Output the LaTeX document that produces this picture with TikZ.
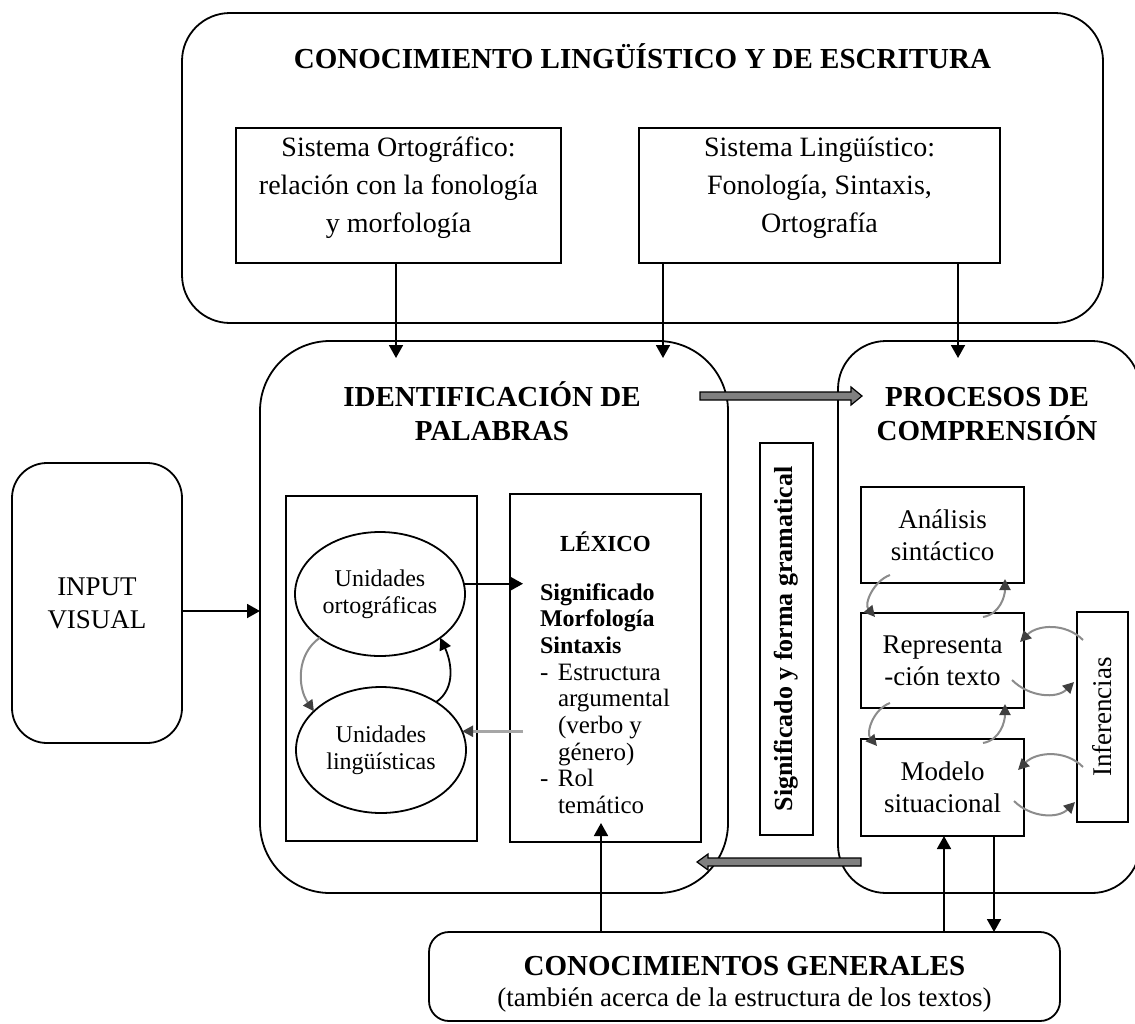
\documentclass[tikz,border=0pt]{standalone}
\usepackage{fontspec}
\setmainfont{Liberation Serif}
\usetikzlibrary{arrows.meta,shapes.geometric,calc}
\newcommand\lexfont{\fontsize{25}{26.7}\selectfont\lineskiplimit=-100pt\relax\lineskip=0pt\relax}
\newcommand\lexbold[1]{{\fontsize{24}{26.7}\selectfont\bfseries #1}}
\begin{document}
\begin{tikzpicture}[x=1pt,y=-1pt,
  box/.style={draw,line width=1.8pt,inner sep=0pt,outer sep=0pt},
  txt/.style={inner sep=0pt,outer sep=0pt,align=center},
  bodyf/.style={font=\fontsize{27}{32}\selectfont},
  ttlf/.style={font=\fontsize{29}{34}\selectfont\bfseries},
  arr/.style={line width=1.8pt,-{Triangle[length=13pt,width=14pt]}},
  garr/.style={line width=2pt,draw=black!45,-{Triangle[length=11pt,width=11pt,color=black!75]}},
  blk/.style={fill=black!50,draw=black,line width=1.2pt,line join=miter}]
\fill[white] (0,0) rectangle (1135,1023);
\useasboundingbox (0,0) rectangle (1135,1023);

% top container
\node[box,rounded corners=48pt,minimum width=921pt,minimum height=310pt] (top) at (642.5,168) {};
\node[txt,ttlf,anchor=base] (toptitle) at (642.5,68) {CONOCIMIENTO LINGÜÍSTICO Y DE ESCRITURA};
\node[box,minimum width=325pt,minimum height=135pt] (orto) at (398.5,195.5) {};
\node[txt,font=\fontsize{28}{38}\selectfont] (ortot) at (398.5,188) {Sistema Ortográfico:\\relación con la fonología\\y morfología};
\node[box,minimum width=361pt,minimum height=135pt] (ling) at (819.5,195.5) {};
\node[txt,font=\fontsize{28}{38}\selectfont] (lingt) at (819.5,188) {Sistema Lingüístico:\\Fonología, Sintaxis,\\Ortografía};

% identification
\node[box,rounded corners=70pt,minimum width=468pt,minimum height=552pt] (ident) at (494,617) {};
\node[txt,ttlf] (identt) at (492,411.5) {IDENTIFICACIÓN DE\\PALABRAS};
\node[box,minimum width=191pt,minimum height=345pt] (leftin) at (381.5,668.5) {};
\node[box,ellipse,minimum width=170pt,minimum height=124pt,align=center,font=\fontsize{24}{27}\selectfont] (e1) at (380,594) {Unidades\\ortográficas};
\node[box,ellipse,minimum width=170pt,minimum height=126pt,align=center,font=\fontsize{24}{27}\selectfont] (e2) at (381,750) {Unidades\\lingüísticas};
\node[box,minimum width=191pt,minimum height=348pt] (lexico) at (605.5,668) {};
\node[txt,font=\fontsize{23}{27}\selectfont\bfseries,anchor=base] (lext) at (605.5,551) {LÉXICO};
\node[inner sep=0pt,outer sep=0pt,align=left,anchor=north west,font=\lexfont] (lexbody) at (540,583)
  {\rule{0pt}{17pt}\lexbold{Significado}\\
   \lexbold{Morfología}\\
   \lexbold{Sintaxis}\\
   \makebox[18pt][l]{-}Estructura\\
   \hspace*{18pt}argumental\\
   \hspace*{18pt}(verbo y\\
   \hspace*{18pt}género)\\
   \makebox[18pt][l]{-}Rol\\
   \hspace*{18pt}temático};

% middle vertical box
\node[box,minimum width=53pt,minimum height=392pt] (vbox) at (786.5,639) {};
\node[txt,rotate=90,font=\fontsize{26}{30}\selectfont\bfseries] (vboxt) at (786.5,639) {Significado y forma gramatical};

% comprehension
\node[box,rounded corners=48pt,minimum width=302pt,minimum height=552pt] (proc) at (989,617) {};
\node[txt,ttlf] (proct) at (987,414) {PROCESOS DE\\COMPRENSIÓN};
\node[box,minimum width=163pt,minimum height=96pt,align=center,bodyf] (analisis) at (942.5,535) {Análisis\\sintáctico};
\node[box,minimum width=163pt,minimum height=95pt,align=center,bodyf] (repr) at (942.5,660.5) {Representa\\-ción texto};
\node[box,minimum width=163pt,minimum height=97pt,align=center,bodyf] (modelo) at (942.5,787.5) {Modelo\\situacional};
\node[box,minimum width=51pt,minimum height=210pt] (infer) at (1102.5,717) {};
\node[txt,rotate=90,bodyf] (infert) at (1102.5,717) {Inferencias};

% input
\node[box,rounded corners=35pt,minimum width=170pt,minimum height=280pt,align=center,font=\fontsize{27}{33}\selectfont] (input) at (97,603) {INPUT\\VISUAL};

% general knowledge
\node[box,rounded corners=20pt,minimum width=631pt,minimum height=89pt] (general) at (744.5,976.5) {};
\node[txt,font=\fontsize{27}{31}\selectfont] (generalt) at (744.5,984) {{\fontsize{29}{31}\selectfont\bfseries CONOCIMIENTOS GENERALES}\\(también acerca de la estructura de los textos)};

% black arrows
\coordinate (xa) at (396,358);
\coordinate (xb) at (663,358);
\coordinate (xc) at (958,358);
\coordinate (ya) at (0,611);
\coordinate (xd) at (523,0);
\coordinate (up1) at (601,823);
\coordinate (xm1) at (944,0);
\coordinate (xm2) at (994,0);
\draw[arr] (orto.south -| xa) -- (xa);
\draw[arr] (ling.south -| xb) -- (xb);
\draw[arr] (ling.south -| xc) -- (xc);
\draw[arr] (input.east |- ya) -- (ident.west |- ya);
\draw[arr] (e1.7) -- (e1.7 -| xd);
\draw[garr,line width=2.6pt,draw=black!35] (e2.13 -| xd) -- (e2.13);
\draw[arr] (general.north -| up1) -- (up1);
\draw[arr] (general.north -| xm1) -- (modelo.south -| xm1);
\draw[arr] (modelo.south -| xm2) -- (general.north -| xm2);

% curved arrows between units
\draw[garr] (e1.216) to[out=215,in=125] (e2.150);
\draw[arr,-{Triangle[length=12pt,width=12pt]}] (e2.41) to[out=35,in=-65] (e1.324);

% curved arrows in comprehension
\draw[garr] ($(analisis.south west)+(29,-8)$) to[out=200,in=130] ($(repr.north west)+(14,4)$);
\draw[garr] ($(repr.north west)+(122,4)$) to[out=10,in=-90] ($(analisis.south west)+(144,-4)$);
\draw[garr] ($(repr.south west)+(29,-5)$) to[out=200,in=130] ($(modelo.north west)+(16,7)$);
\draw[garr] ($(modelo.north west)+(122,4)$) to[out=10,in=-90] ($(repr.south west)+(144,-4)$);
\draw[garr] ($(infer.north west)+(6,28)$) to[out=135,in=45] ($(repr.north east)+(-4,29)$);
\draw[garr] ($(repr.north east)+(-12,67)$) to[out=-45,in=225] ($(infer.north west)+(-3,70)$);
\draw[garr] ($(infer.north west)+(6,155)$) to[out=135,in=45] ($(modelo.north east)+(-6,31)$);
\draw[garr] ($(modelo.north east)+(-10,62)$) to[out=-45,in=225] ($(infer.north west)+(-2,190)$);

% block arrows
\coordinate (ga) at (700,396);
\coordinate (gb) at (862,396);
\coordinate (gc) at (861,862);
\coordinate (gd) at (697,862);
\filldraw[blk] ($(ga)+(0,-4)$) -- ($(gb)+(-11,-4)$) -- ($(gb)+(-11,-9)$) -- (gb) -- ($(gb)+(-11,9)$) -- ($(gb)+(-11,4)$) -- ($(ga)+(0,4)$) -- cycle;
\filldraw[blk] ($(gc)+(0,-4)$) -- ($(gd)+(11,-4)$) -- ($(gd)+(11,-8)$) -- (gd) -- ($(gd)+(11,8)$) -- ($(gd)+(11,4)$) -- ($(gc)+(0,4)$) -- cycle;
\end{tikzpicture}
\end{document}
